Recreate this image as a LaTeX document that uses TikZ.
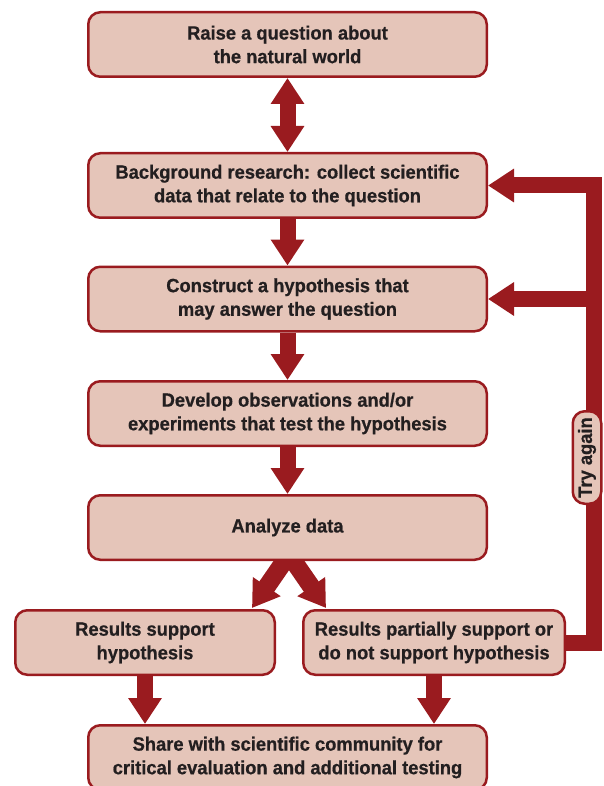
\documentclass[tikz,border=0pt]{standalone}
\usepackage{fontspec}
\setmainfont{Liberation Sans}[FakeStretch=0.955, BoldFeatures={FakeBold=0.6}]
\usetikzlibrary{arrows.meta,calc}
\definecolor{boxfill}{HTML}{E5C5B9}
\definecolor{darkred}{HTML}{9A1B1F}
\definecolor{txt}{HTML}{231F20}
\pgfdeclarelayer{bg}
\pgfsetlayers{bg,main}
\tikzset{
  stepbox/.style={draw=darkred, line width=2.5pt, fill=boxfill, rounded corners=12pt, text=txt, align=center,
    font=\fontsize{19.2}{23.6}\selectfont\bfseries, inner sep=0pt, minimum height=64.5pt},
  widebox/.style={stepbox, minimum width=398.5pt},
  fat/.style={draw=darkred, line width=16pt, -{Triangle[length=26pt,width=32pt]}},
  fatboth/.style={draw=darkred, line width=16pt, {Triangle[length=26pt,width=32pt]}-{Triangle[length=26pt,width=32pt]}},
}
\begin{document}
\begin{tikzpicture}[x=1pt,y=-1pt]
\useasboundingbox (0,0) rectangle (603,786);
\node[widebox] (b1) at (287.5,44.5) {Raise a question about\\the natural world};
\node[widebox] (b2) at (287.5,185.5) {Background research: collect scientific\\data that relate to the question};
\node[widebox] (b3) at (287.5,299) {Construct a hypothesis that\\may answer the question};
\node[widebox] (b4) at (287.5,413.5) {Develop observations and/or\\experiments that test the hypothesis};
\node[widebox] (b5) at (287.5,527.5) {Analyze data};
\node[stepbox, minimum width=259.5pt] (b6) at (145,642.5) {Results support\\hypothesis};
\node[stepbox, minimum width=261.5pt] (b7) at (434,642.5) {Results partially support or\\do not support hypothesis};
\node[widebox] (b8) at (287.5,757.5) {Share with scientific community for\\critical evaluation and additional testing};
\node[stepbox, rotate=90, minimum width=92.5pt, minimum height=28.5pt] (try) at (587,457.5) {Try again};
\begin{pgfonlayer}{bg}
\draw[fatboth] (b1.south) -- (b2.north);
\draw[fat] (b2) -- (b3.north);
\draw[fat] (b3) -- (b4.north);
\draw[fat] (b4) -- (b5.north);
\coordinate (forkL) at (252,608);
\coordinate (forkR) at (326,608);
\draw[fat, line width=18pt] ($(b5.south)+(-1,-3)$) -- (forkL);
\draw[fat, line width=18pt] ($(b5.south)+(4,-3)$) -- (forkR);
\draw[fat] (b6) -- (b6 |- b8.north);
\draw[fat] (b7) -- (b7 |- b8.north);
\coordinate (fbtop) at (594,185.5);
\draw[fat, line join=miter] (b7) -| (fbtop) -- (b2.east);
\draw[fat] (fbtop |- b3) -- (b3.east);
\end{pgfonlayer}
\end{tikzpicture}
\end{document}
